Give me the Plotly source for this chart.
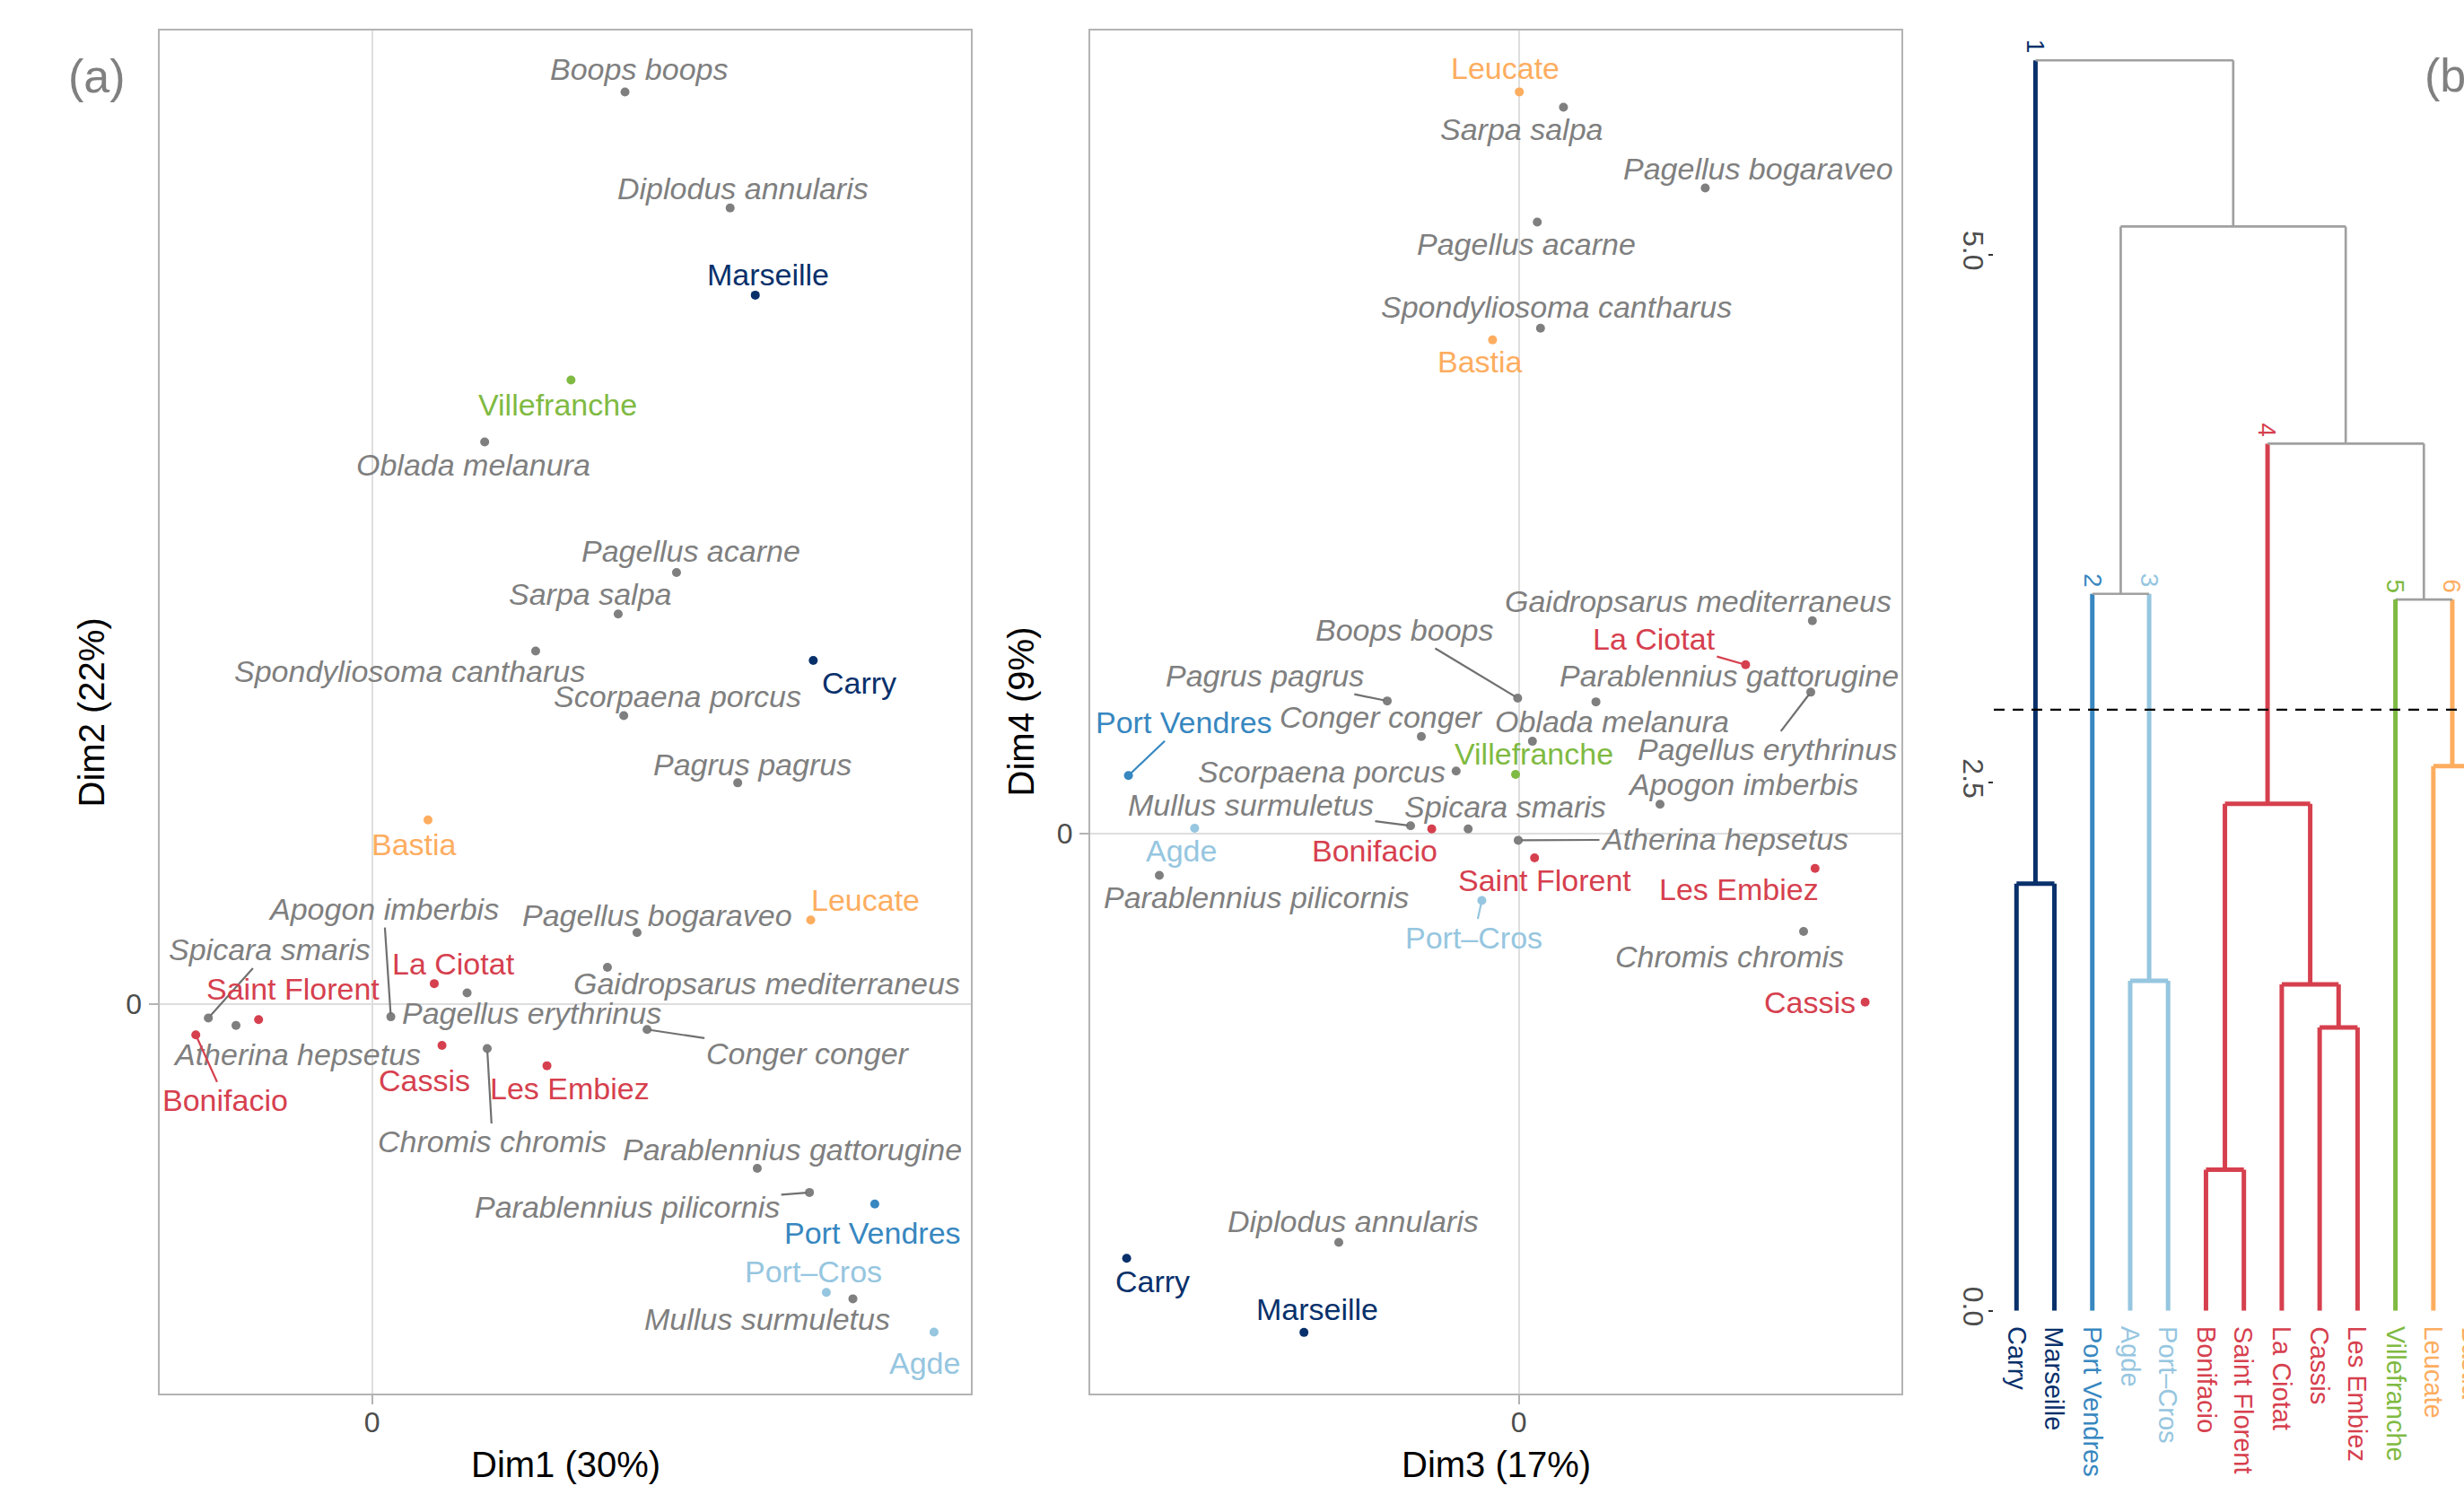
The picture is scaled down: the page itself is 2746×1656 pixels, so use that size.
import plotly.graph_objects as go

W, H = 2746, 1656
FONT = "Liberation Sans, Arial, Helvetica, sans-serif"

# ---------------- ordination scores ----------------
sites = ["Marseille", "Villefranche", "Carry", "Bastia", "Leucate", "La Ciotat",
         "Saint Florent", "Bonifacio", "Cassis", "Les Embiez", "Port Vendres",
         "Port–Cros", "Agde"]
site_cluster = [1, 5, 1, 6, 6, 4, 4, 4, 4, 4, 2, 3, 3]
site_dim1 = [2.136, 1.109, 2.459, 0.312, 2.445, 0.347, -0.632, -0.982, 0.390, 0.975, 2.802, 2.532, 3.132]
site_dim2 = [3.952, 3.478, 1.914, 1.025, 0.467, 0.112, -0.089, -0.174, -0.233, -0.346, -1.117, -1.610, -1.832]
site_dim3 = [-1.197, -0.018, -2.185, -0.146, 0.003, 1.264, 0.088, -0.485, 1.930, 1.651, -2.175, -0.206, -1.806]
site_dim4 = [-2.781, 0.331, -2.368, 2.755, 4.138, 0.943, -0.134, 0.027, -0.939, -0.193, 0.325, -0.372, 0.031]

species = ["Boops boops", "Diplodus annularis", "Oblada melanura", "Pagellus acarne",
           "Sarpa salpa", "Spondyliosoma cantharus", "Scorpaena porcus", "Pagrus pagrus",
           "Pagellus bogaraveo", "Gaidropsarus mediterraneus", "Pagellus erythrinus",
           "Apogon imberbis", "Spicara smaris", "Atherina hepsetus", "Chromis chromis",
           "Conger conger", "Parablennius gattorugine", "Parablennius pilicornis",
           "Mullus surmuletus"]
sp_dim1 = [1.410, 1.996, 0.628, 1.697, 1.372, 0.912, 1.403, 2.038, 1.477, 1.312, 0.530,
           0.105, -0.912, -0.758, 0.642, 1.533, 2.147, 2.438, 2.680]
sp_dim2 = [5.085, 4.438, 3.133, 2.405, 2.173, 1.967, 1.607, 1.232, 0.397, 0.203, 0.060,
           -0.073, -0.080, -0.121, -0.250, -0.144, -0.918, -1.053, -1.646]
sp_dim3 = [-0.006, -1.003, 0.076, 0.103, 0.249, 0.121, -0.349, -0.733, 1.039, 1.636, 1.627,
           0.787, -0.282, -0.003, 1.587, -0.543, 0.430, -2.003, -0.603]
sp_dim4 = [0.757, -2.279, 0.516, 3.412, 4.052, 2.820, 0.350, 0.741, 3.602, 1.188, 0.790,
           0.165, 0.027, -0.036, -0.545, 0.543, 0.736, -0.232, 0.045]

dim_titles = ["Dim1 (30%)", "Dim2 (22%)", "Dim3 (17%)", "Dim4 (9%)"]

# ---------------- hierarchical clustering of sites ----------------
leaf_names = ["Carry", "Marseille", "Port Vendres", "Agde", "Port–Cros", "Bonifacio",
              "Saint Florent", "La Ciotat", "Cassis", "Les Embiez", "Villefranche",
              "Leucate", "Bastia"]
leaf_cluster = [1, 1, 2, 3, 3, 4, 4, 4, 4, 4, 5, 6, 6]
# hclust-style merge table: negative = leaf index (1-based), positive = earlier merge
merge_left = [-1, -4, -6, -9, -8, 3, -12, -3, -11, 6, 8, 1]
merge_right = [-2, -5, -7, -10, 4, 5, -13, 2, 7, 9, 10, 11]
merge_height = [2.023, 1.563, 0.668, 1.342, 1.546, 2.401, 2.579, 3.395, 3.368, 4.106, 5.134, 5.921]
cut_height = 2.846
dend_ticks = [0, 2.5, 5.0]

# ---------------- styling ----------------
cluster_colors = {1: "#08306b", 2: "#3787c0", 3: "#96c6e0", 4: "#d6404e",
                  5: "#7fba42", 6: "#fdad5f"}
GREY_TXT = "#7f7f7f"
GREY_SEG = "#707070"
GREY_LINK = "#a0a0a0"

# label placement (pixel offset of label centre from its point, segment drawn?)
labels_12 = {
    "Marseille": (14, -23, 0), "Villefranche": (-15, 27, 0), "Carry": (51, 25, 0),
    "Bastia": (-15, 27, 0), "Leucate": (61, -22, 0), "La Ciotat": (22, -22, 0),
    "Saint Florent": (38, -34, 0), "Bonifacio": (33, 73, 1), "Cassis": (-20, 39, 0),
    "Les Embiez": (25, 25, 0), "Port Vendres": (-2, 32, 0), "Port–Cros": (-14, -23, 0),
    "Agde": (-10, 34, 0),
    "Boops boops": (16, -25, 0), "Diplodus annularis": (14, -22, 0),
    "Oblada melanura": (-13, 25, 0), "Pagellus acarne": (16, -24, 0),
    "Sarpa salpa": (-31, -22, 0), "Spondyliosoma cantharus": (-140, 23, 0),
    "Scorpaena porcus": (60, -21, 0), "Pagrus pagrus": (16, -20, 0),
    "Pagellus bogaraveo": (23, -19, 0), "Gaidropsarus mediterraneus": (178, 18, 0),
    "Pagellus erythrinus": (72, 22, 0), "Apogon imberbis": (-8, -120, 1),
    "Spicara smaris": (68, -76, 1), "Atherina hepsetus": (68, 32, 0),
    "Chromis chromis": (6, 104, 1), "Conger conger": (179, 27, 1),
    "Parablennius gattorugine": (39, -21, 0), "Parablennius pilicornis": (-203, 16, 1),
    "Mullus surmuletus": (-96, 23, 0),
}
labels_34 = {
    "Leucate": (-16, -26, 0), "Bastia": (-14, 24, 0), "La Ciotat": (-102, -29, 1),
    "Port Vendres": (62, -59, 1), "Villefranche": (20, -23, 0), "Bonifacio": (-64, 24, 0),
    "Agde": (-15, 25, 0), "Saint Florent": (11, 25, 0), "Les Embiez": (-85, 23, 0),
    "Port–Cros": (-9, 41, 1), "Cassis": (-62, 0, 0), "Carry": (29, 26, 0),
    "Marseille": (15, -26, 0),
    "Sarpa salpa": (-47, 24, 0), "Pagellus bogaraveo": (59, -21, 0),
    "Pagellus acarne": (-12, 25, 0), "Spondyliosoma cantharus": (18, -24, 0),
    "Gaidropsarus mediterraneus": (-127, -22, 0), "Boops boops": (-126, -76, 1),
    "Pagrus pagrus": (-137, -28, 1), "Parablennius gattorugine": (148, -29, 0),
    "Pagellus erythrinus": (-49, 64, 1), "Oblada melanura": (89, -22, 0),
    "Conger conger": (-45, -22, 0), "Scorpaena porcus": (-150, 1, 0),
    "Apogon imberbis": (92, -22, 0), "Mullus surmuletus": (-178, -23, 1),
    "Spicara smaris": (41, -25, 0), "Atherina hepsetus": (230, -1, 1),
    "Parablennius pilicornis": (108, 24, 0), "Chromis chromis": (-83, 28, 0),
    "Diplodus annularis": (16, -24, 0),
}

# layout helpers: pixel position on the page -> paper fraction
H_EFF = H * 0.9907


def fx(p):
    return p / W


def fy(p):
    return 1 - (p + 1.2) / H_EFF


fig = go.Figure()
annotations = []


def point_label(name, x, y, xa, ya, color, italic, place, seg_color):
    dx, dy, seg = place
    txt = f"<i>{name}</i>" if italic else name
    ann = dict(x=x, y=y, xref=xa, yref=ya, text=txt,
               font=dict(family=FONT, size=34, color=color))
    if seg:
        ann.update(showarrow=True, ax=dx, ay=dy, arrowhead=0, arrowwidth=2.2,
                   arrowcolor=seg_color, standoff=3)
    else:
        ann.update(showarrow=False, xshift=dx, yshift=-dy)
    return ann


panels = [
    ("x", "y", site_dim1, site_dim2, sp_dim1, sp_dim2, labels_12),
    ("x2", "y2", site_dim3, site_dim4, sp_dim3, sp_dim4, labels_34),
]
site_cols = [cluster_colors[c] for c in site_cluster]
for xa, ya, sx, sy, px, py, place in panels:
    fig.add_trace(go.Scatter(x=px, y=py, mode="markers", xaxis=xa, yaxis=ya,
                             marker=dict(size=10, color=GREY_TXT), hoverinfo="skip"))
    fig.add_trace(go.Scatter(x=sx, y=sy, mode="markers", xaxis=xa, yaxis=ya,
                             marker=dict(size=10, color=site_cols), hoverinfo="skip"))
    for n, x, y in zip(species, px, py):
        annotations.append(point_label(n, x, y, xa, ya, GREY_TXT, True, place[n], GREY_SEG))
    for n, x, y, c in zip(sites, sx, sy, site_cols):
        annotations.append(point_label(n, x, y, xa, ya, c, False, place[n], c))

# ---------------- dendrogram geometry ----------------
n_leaf = len(leaf_names)
node_x, node_h, node_cl = {}, {}, {}
for i in range(n_leaf):
    key = -(i + 1)
    node_x[key], node_h[key], node_cl[key] = i + 1, 0.0, leaf_cluster[i]
parent_of = {}
for m, (a, b, h) in enumerate(zip(merge_left, merge_right, merge_height), start=1):
    node_x[m] = (node_x[a] + node_x[b]) / 2
    node_h[m] = h
    node_cl[m] = node_cl[a] if node_cl[a] == node_cl[b] else None
    parent_of[a] = m
    parent_of[b] = m

segments = {}  # colour -> list of (x0, y0, x1, y1)
for m, (a, b, h) in enumerate(zip(merge_left, merge_right, merge_height), start=1):
    for child in (a, b):
        col = cluster_colors.get(node_cl[child], GREY_LINK)
        segments.setdefault(col, []).append((node_x[child], node_h[child], node_x[child], h))
    col = cluster_colors.get(node_cl[m], GREY_LINK)
    segments.setdefault(col, []).append((node_x[a], h, node_x[b], h))

for col, segs in segments.items():
    xs, ys = [], []
    for x0, y0, x1, y1 in segs:
        xs += [x0, x1, None]
        ys += [y0, y1, None]
    fig.add_trace(go.Scatter(x=xs, y=ys, mode="lines", xaxis="x3", yaxis="y3",
                             line=dict(color=col, width=2.7 if col == GREY_LINK else 5),
                             hoverinfo="skip"))

# cluster numbers sit on top of each cluster's stem (the highest node of the cluster)
for node, cl in node_cl.items():
    if cl is None or node not in parent_of:
        continue
    if node_cl[parent_of[node]] == cl:
        continue
    annotations.append(dict(x=node_x[node], y=node_h[parent_of[node]], xref="x3", yref="y3",
                            text=str(cl), textangle=90, showarrow=False,
                            xanchor="center", yanchor="bottom", yshift=5,
                            font=dict(family=FONT, size=28, color=cluster_colors[cl])))

D_RANGE = [0.401, 12.809]
for i, (n, cl) in enumerate(zip(leaf_names, leaf_cluster), start=1):
    frac = (i - D_RANGE[0]) / (D_RANGE[1] - D_RANGE[0])
    annotations.append(dict(x=frac, y=0, xref="x3 domain", yref="y3 domain",
                            text=n, textangle=90, showarrow=False,
                            xanchor="center", yanchor="top", yshift=-15,
                            font=dict(family=FONT, size=29, color=cluster_colors[cl])))

# ---------------- titles ----------------
for txt, (px, py), ang in [(dim_titles[0], (630, 1632), 0), (dim_titles[2], (1667, 1632), 0),
                           (dim_titles[1], (102, 793), -90), (dim_titles[3], (1138, 793), -90)]:
    annotations.append(dict(x=fx(px), y=fy(py), xref="paper", yref="paper", text=txt,
                            textangle=ang, showarrow=False, xanchor="center", yanchor="middle",
                            font=dict(family=FONT, size=40, color="#000000")))

annotations.append(dict(x=fx(108), y=fy(84), xref="paper", yref="paper", text="(a)",
                        showarrow=False, xanchor="center", yanchor="middle",
                        font=dict(family=FONT, size=52, color="#808080")))
annotations.append(dict(x=fx(2700), y=fy(83), xref="paper", yref="paper", text="(b)",
                        showarrow=False, xanchor="left", yanchor="middle",
                        font=dict(family=FONT, size=52, color="#808080")))

scat_axis = dict(showline=True, mirror=True, linecolor="#b3b3b3", linewidth=2,
                 showgrid=False, zeroline=True, zerolinecolor="#dedede", zerolinewidth=1.6,
                 tickmode="array", tickvals=[0], ticktext=["0"], ticks="outside",
                 ticklen=10, tickwidth=2, tickcolor="#b3b3b3",
                 tickfont=dict(family=FONT, size=32, color="#4d4d4d"))
ydom = [fy(1553), fy(33)]

fig.update_layout(
    width=W, height=H, margin=dict(l=0, r=0, t=0, b=0),
    paper_bgcolor="white", plot_bgcolor="white", showlegend=False,
    xaxis=dict(domain=[fx(177.5), fx(1082)], range=[-1.1855, 3.3375], anchor="y",
               ticklabelstandoff=-7, **scat_axis),
    yaxis=dict(domain=ydom, range=[-2.173, 5.427], anchor="x",
               ticklabelstandoff=1, **scat_axis),
    xaxis2=dict(domain=[fx(1215), fx(2119)], range=[-2.388, 2.132], anchor="y2",
                ticklabelstandoff=-7, **scat_axis),
    yaxis2=dict(domain=ydom, range=[-3.1205, 4.4795], anchor="x2",
                ticklabelstandoff=1, **scat_axis),
    xaxis3=dict(domain=[fx(2222), 1], range=D_RANGE, anchor="y3", visible=False),
    yaxis3=dict(domain=[fy(1461), fy(31)], range=[0, 6.07], anchor="x3",
                showline=False, showgrid=False, zeroline=False,
                tickmode="array", tickvals=dend_ticks,
                ticktext=[f"{v:.1f}" for v in dend_ticks], tickangle=90,
                ticks="outside", ticklen=5, tickwidth=1.5, tickcolor="#333333",
                ticklabelstandoff=-10,
                tickfont=dict(family=FONT, size=32, color="#4d4d4d")),
    annotations=annotations,
    shapes=[dict(type="line", xref="x3 domain", yref="y3", x0=0, x1=1,
                 y0=cut_height, y1=cut_height,
                 line=dict(color="#000000", width=2.2, dash="12px,9px"))],
)

fig.write_html("out.html")
